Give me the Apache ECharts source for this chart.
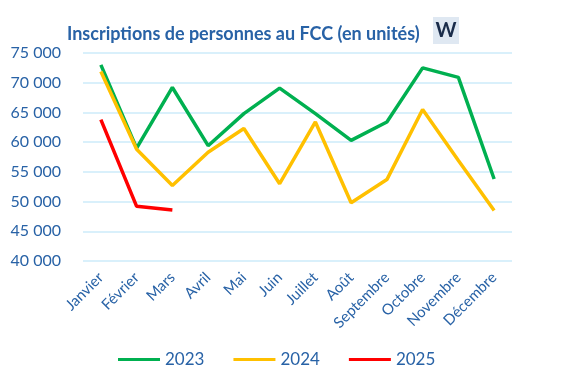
<!DOCTYPE html>
<html><head><meta charset="utf-8">
<script src="https://cdn.jsdelivr.net/npm/echarts@6/dist/echarts.min.js"></script>
<style>html,body{margin:0;padding:0;background:#fff}#c{width:575px;height:388px}</style>
</head><body><div id="c"></div>
<script>
var months = ["Janvier","Février","Mars","Avril","Mai","Juin","Juillet","Août","Septembre","Octobre","Novembre","Décembre"];
var s2023 = [73000,59000,69200,59400,64800,69100,64800,60300,63400,72500,70900,53800];
var s2024 = [71900,58800,52700,58300,62300,53000,63400,49800,53700,65500,56900,48500];
var s2025 = [63800,49200,48600];
var yTicks = {min:40000, max:75000, interval:5000};

var blue = '#2862A6';
var font = 'Lato';
var chart = echarts.init(document.getElementById('c'));
function fmt(v){ return String(v).replace(/\B(?=(\d{3})+(?!\d))/g,' '); }
function mk(name, data, color){
  return {name:name, type:'line', data:data, symbol:'none', smooth:false,
    lineStyle:{color:color, width:3.5}, itemStyle:{color:color}};
}
chart.setOption({
  animation:false,
  title:{text:'Inscriptions de personnes au FCC (en unités)', left:62, top:20,
    textStyle:{fontFamily:font, fontSize:18, fontWeight:'bold', color:blue}},
  graphic:[
    {type:'rect', shape:{x:433, y:17, width:26, height:27}, style:{fill:'#dfe8f2'}},
    {type:'text', style:{x:446, y:31, text:'W', font:'bold 20px '+font, fill:'#1a2c4a', align:'center', verticalAlign:'middle'}}
  ],
  grid:{left:83, right:63, top:53, bottom:127},
  legend:{bottom:15, left:113, itemWidth:42, itemHeight:3, itemGap:29,
    icon:'rect',
    textStyle:{fontFamily:font, fontSize:17, color:blue},
    data:['2023','2024','2025']},
  xAxis:{type:'category', data:months, boundaryGap:true,
    axisLine:{show:false}, axisTick:{show:false},
    axisLabel:{rotate:45, interval:0, fontFamily:font, fontSize:15, color:blue, margin:14}},
  yAxis:{type:'value', min:yTicks.min, max:yTicks.max, interval:yTicks.interval,
    axisLine:{show:false}, axisTick:{show:false},
    splitLine:{lineStyle:{color:'#CDEBFA', width:1.5}},
    axisLabel:{formatter:fmt, fontFamily:font, fontSize:16, color:blue, margin:22}},
  series:[mk('2023',s2023,'#00B050'), mk('2024',s2024,'#FFC000'), mk('2025',s2025,'#FF0000')]
});
</script></body></html>
